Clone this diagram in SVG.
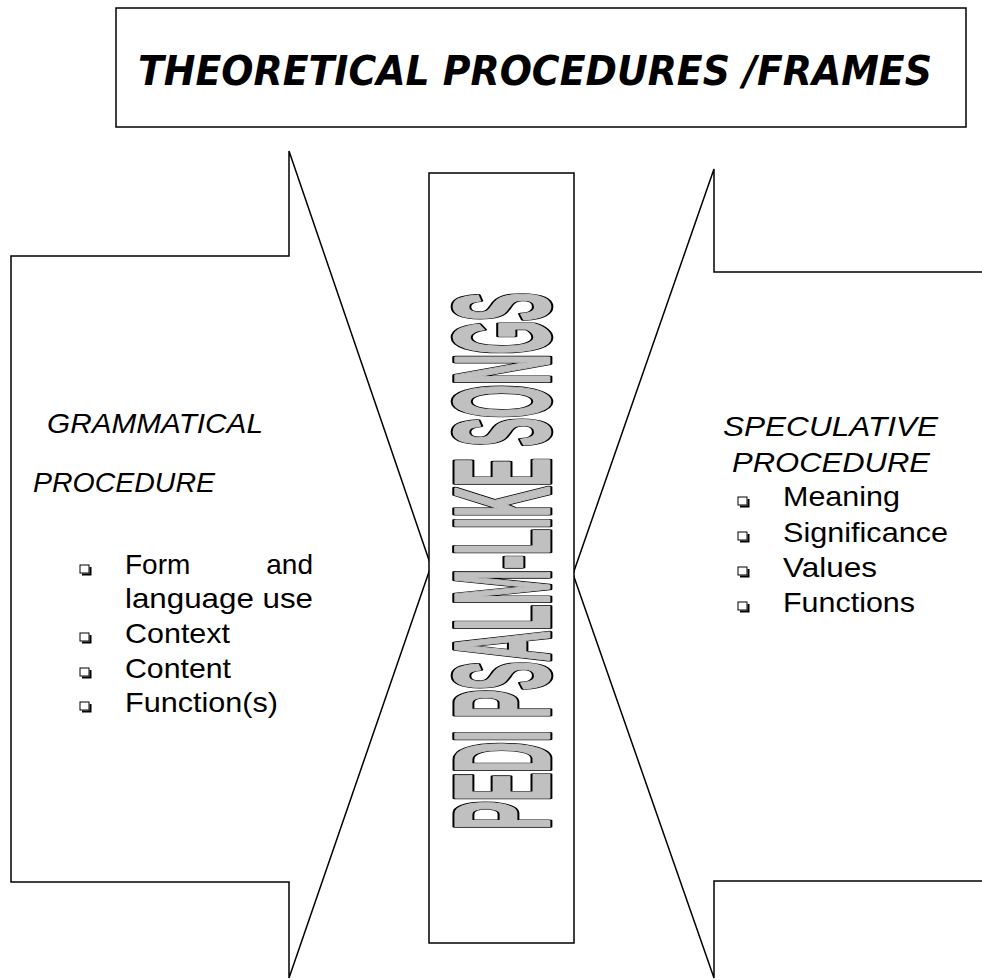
<svg xmlns="http://www.w3.org/2000/svg" xmlns:xlink="http://www.w3.org/1999/xlink" width="982" height="980" viewBox="0 0 982 980">
<style>
.ln{fill:#fff;stroke:#000;stroke-width:1.5;stroke-linejoin:miter}
.body{font-family:"Liberation Sans",Arial,sans-serif;font-size:28px;fill:#000}
.it{font-style:italic}
.title{font-family:"DejaVu Sans",Verdana,sans-serif;font-weight:bold;font-style:italic;font-size:40px;fill:#000}
.art{font-family:"Liberation Sans",Arial,sans-serif;font-weight:bold;font-size:40px;stroke-linejoin:round;vector-effect:non-scaling-stroke}
.artOut{fill:#000;stroke:#000;stroke-width:5}
.artIn{fill:#c0c0c0;stroke:#c0c0c0;stroke-width:2}
</style>
<defs>
<g id="bul">
<rect x="0" y="0" width="9" height="8" fill="#fff" stroke="#000" stroke-width="1"/>
<path d="M2,9.5 H10.5 V2" fill="none" stroke="#000" stroke-width="2"/>
</g>
</defs>
<rect width="982" height="980" fill="#fff"/>
<g id="title">
<rect class="ln" x="116" y="8" width="850" height="119"/>
<text class="title" x="535" y="85" text-anchor="middle" textLength="794" lengthAdjust="spacingAndGlyphs">THEORETICAL PROCEDURES /FRAMES</text>
</g>
<g id="connectors">
<path id="left-arrow" class="ln" d="M11,256 H289 V151 L431,566 L289,978 V882 H11 Z"/>
<path id="right-arrow" class="ln" d="M990,272 H714 V169 L573,574 L714,978 V881 H990"/>
</g>
<g id="center">
<rect class="ln" x="429" y="173" width="145" height="770"/>
<g transform="translate(548.5,829.5) rotate(-90) scale(1,3.39)">
<text class="art artOut" x="0" y="0" textLength="537" lengthAdjust="spacingAndGlyphs">PEDI PSALM-LIKE SONGS</text>
<text class="art artIn" x="0" y="0" textLength="537" lengthAdjust="spacingAndGlyphs">PEDI PSALM-LIKE SONGS</text>
</g>
</g>
<g id="left-text">
<text class="body it" x="47" y="433" textLength="216" lengthAdjust="spacingAndGlyphs">GRAMMATICAL</text>
<text class="body it" x="33" y="492" textLength="182" lengthAdjust="spacingAndGlyphs">PROCEDURE</text>
<use xlink:href="#bul" x="80" y="565"/>
<text class="body" x="125" y="574">Form</text>
<text class="body" x="313" y="574" text-anchor="end">and</text>
<text class="body" x="125" y="608" textLength="188" lengthAdjust="spacingAndGlyphs">language use</text>
<use xlink:href="#bul" x="80" y="633"/>
<text class="body" x="125" y="643" textLength="105" lengthAdjust="spacingAndGlyphs">Context</text>
<use xlink:href="#bul" x="80" y="668"/>
<text class="body" x="125" y="678" textLength="106" lengthAdjust="spacingAndGlyphs">Content</text>
<use xlink:href="#bul" x="80" y="702"/>
<text class="body" x="125" y="712" textLength="153" lengthAdjust="spacingAndGlyphs">Function(s)</text>
</g>
<g id="right-text">
<text class="body it" x="723" y="436" textLength="215" lengthAdjust="spacingAndGlyphs">SPECULATIVE</text>
<text class="body it" x="732" y="472" textLength="198" lengthAdjust="spacingAndGlyphs">PROCEDURE</text>
<use xlink:href="#bul" x="738" y="497"/>
<text class="body" x="783" y="506" textLength="117" lengthAdjust="spacingAndGlyphs">Meaning</text>
<use xlink:href="#bul" x="738" y="532"/>
<text class="body" x="783" y="542" textLength="165" lengthAdjust="spacingAndGlyphs">Significance</text>
<use xlink:href="#bul" x="738" y="567"/>
<text class="body" x="783" y="577" textLength="94" lengthAdjust="spacingAndGlyphs">Values</text>
<use xlink:href="#bul" x="738" y="602"/>
<text class="body" x="783" y="612" textLength="132" lengthAdjust="spacingAndGlyphs">Functions</text>
</g>
</svg>
